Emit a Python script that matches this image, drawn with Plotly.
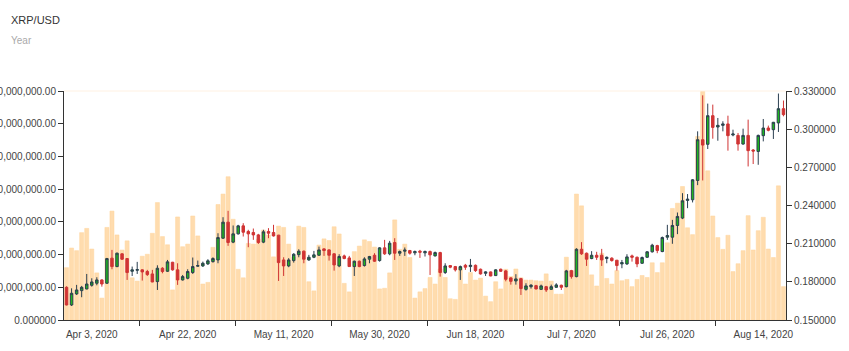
import pandas as pd
import plotly.graph_objects as go

START_DATE = "2020-03-29"
N_DAYS = 143
DATES = pd.date_range(START_DATE, periods=N_DAYS, freq="D")

OPEN = [0.1757,0.1618,0.1705,0.1731,0.1744,0.1773,0.1789,0.1815,0.1789,0.1986,
        0.1920,0.2020,0.1983,0.1883,0.1891,0.1894,0.1881,0.1862,0.1802,0.1907,
        0.1883,0.1954,0.1894,0.1815,0.1828,0.1873,0.1923,0.1925,0.1941,0.1959,
        0.1972,0.2143,0.2269,0.2112,0.2177,0.2240,0.2196,0.2188,0.2169,0.2112,
        0.2196,0.2188,0.2167,0.1972,0.1925,0.1967,0.2014,0.2041,0.1972,0.1993,
        0.2009,0.2059,0.2051,0.2020,0.1925,0.2004,0.1988,0.1920,0.1962,0.1928,
        0.1978,0.2009,0.1967,0.2067,0.2020,0.2109,0.2025,0.2041,0.2046,0.2028,
        0.2041,0.2028,0.2038,0.2004,0.2030,0.1873,0.1928,0.1920,0.1894,0.1930,
        0.1920,0.1930,0.1899,0.1867,0.1878,0.1849,0.1899,0.1886,0.1831,0.1807,
        0.1825,0.1741,0.1762,0.1770,0.1741,0.1762,0.1741,0.1757,0.1773,0.1762,
        0.1888,0.1841,0.2056,0.2025,0.1983,0.2009,0.2009,0.1983,0.1986,0.1970,
        0.1941,0.1941,0.2004,0.1993,0.1946,0.1993,0.2036,0.2085,0.2038,0.2151,
        0.2151,0.2243,0.2301,0.2440,0.2445,0.2597,0.2917,0.2881,0.3106,0.3017,
        0.3030,0.3041,0.2954,0.2951,0.2883,0.2951,0.2836,0.2825,0.2949,0.3009,
        0.2996,0.3049,0.3161]
HIGH = [0.1765,0.1749,0.1776,0.1768,0.1862,0.1828,0.1836,0.1820,0.1988,0.2051,
        0.2030,0.2025,0.1986,0.1920,0.1957,0.1899,0.1894,0.1894,0.1930,0.1915,
        0.1972,0.1957,0.1946,0.1854,0.1899,0.1991,0.1967,0.1959,0.1978,0.1993,
        0.2182,0.2308,0.2358,0.2243,0.2248,0.2261,0.2209,0.2219,0.2177,0.2209,
        0.2222,0.2248,0.2169,0.1993,0.1986,0.2025,0.2056,0.2046,0.2012,0.2043,
        0.2077,0.2064,0.2056,0.2025,0.2017,0.2014,0.2004,0.1967,0.1967,0.1993,
        0.2004,0.2025,0.2072,0.2130,0.2122,0.2143,0.2046,0.2070,0.2051,0.2046,
        0.2051,0.2046,0.2046,0.2038,0.2036,0.1946,0.1930,0.1925,0.1928,0.1941,
        0.1980,0.1936,0.1904,0.1883,0.1881,0.1899,0.1904,0.1894,0.1836,0.1860,
        0.1831,0.1789,0.1783,0.1776,0.1778,0.1768,0.1778,0.1789,0.1778,0.1894,
        0.1894,0.2064,0.2112,0.2030,0.2041,0.2036,0.2059,0.1999,0.1993,0.1972,
        0.1972,0.2017,0.2014,0.1999,0.1999,0.2041,0.2099,0.2091,0.2156,0.2248,
        0.2287,0.2345,0.2497,0.2490,0.2608,0.2983,0.3266,0.3201,0.3193,0.3088,
        0.3062,0.3106,0.2996,0.2970,0.3004,0.3075,0.2844,0.2957,0.3080,0.3028,
        0.3057,0.3280,0.3225]
LOW = [0.1615,0.1610,0.1697,0.1679,0.1741,0.1762,0.1773,0.1762,0.1783,0.1899,
       0.1915,0.1972,0.1815,0.1846,0.1862,0.1810,0.1846,0.1797,0.1736,0.1867,
       0.1878,0.1888,0.1776,0.1810,0.1820,0.1862,0.1917,0.1917,0.1933,0.1951,
       0.1946,0.2138,0.2083,0.2104,0.2172,0.2156,0.2072,0.2130,0.2098,0.2104,
       0.2143,0.2156,0.1807,0.1846,0.1915,0.1951,0.1993,0.1946,0.1965,0.1986,
       0.2004,0.2004,0.1967,0.1888,0.1915,0.1978,0.1917,0.1846,0.1915,0.1920,
       0.1946,0.1957,0.1959,0.2012,0.2009,0.1972,0.2004,0.2004,0.2014,0.2009,
       0.1988,0.1999,0.1854,0.1999,0.1841,0.1862,0.1907,0.1881,0.1815,0.1894,
       0.1878,0.1878,0.1857,0.1846,0.1844,0.1846,0.1878,0.1804,0.1778,0.1778,
       0.1697,0.1731,0.1747,0.1741,0.1736,0.1720,0.1736,0.1752,0.1736,0.1757,
       0.1825,0.1836,0.2012,0.1925,0.1978,0.1972,0.1925,0.1946,0.1959,0.1888,
       0.1907,0.1933,0.1959,0.1915,0.1941,0.1988,0.2030,0.2025,0.2033,0.2130,
       0.2099,0.2175,0.2293,0.2379,0.2424,0.2560,0.2597,0.2844,0.2925,0.2909,
       0.2983,0.2831,0.2944,0.2831,0.2878,0.2707,0.2726,0.2720,0.2904,0.2983,
       0.2923,0.2978,0.3101]
CLOSE = [0.1618,0.1710,0.1736,0.1757,0.1783,0.1799,0.1815,0.1783,0.1983,0.1920,
         0.2025,0.1978,0.1873,0.1894,0.1896,0.1878,0.1857,0.1799,0.1907,0.1881,
         0.1957,0.1894,0.1815,0.1841,0.1881,0.1920,0.1928,0.1946,0.1965,0.1983,
         0.2148,0.2269,0.2109,0.2177,0.2240,0.2190,0.2177,0.2169,0.2109,0.2193,
         0.2182,0.2161,0.1951,0.1925,0.1972,0.2017,0.2041,0.1978,0.1993,0.2012,
         0.2051,0.2046,0.2009,0.1933,0.1999,0.1983,0.1920,0.1962,0.1920,0.1980,
         0.1999,0.1962,0.2067,0.2020,0.2104,0.2025,0.2038,0.2049,0.2025,0.2038,
         0.2033,0.2038,0.2012,0.2030,0.1873,0.1925,0.1915,0.1894,0.1920,0.1915,
         0.1930,0.1888,0.1862,0.1878,0.1846,0.1894,0.1883,0.1820,0.1804,0.1823,
         0.1747,0.1768,0.1773,0.1744,0.1768,0.1736,0.1762,0.1776,0.1757,0.1886,
         0.1841,0.2056,0.2020,0.1978,0.2009,0.1993,0.1972,0.1993,0.1967,0.1928,
         0.1951,0.1996,0.1993,0.1941,0.1991,0.2036,0.2088,0.2046,0.2148,0.2164,
         0.2243,0.2314,0.2437,0.2450,0.2602,0.2917,0.2875,0.3106,0.3014,0.3030,
         0.3041,0.2949,0.2962,0.2883,0.2951,0.2831,0.2828,0.2951,0.3009,0.2991,
         0.3054,0.3161,0.3114]
# daily volume, in billions of USD
VOLUME_BN = [1.60,2.20,2.12,2.67,2.80,2.17,1.44,0.67,2.83,3.33,
             2.60,2.14,2.42,1.29,1.19,1.95,2.01,2.65,3.59,2.55,
             2.30,0.92,3.15,2.24,2.32,3.18,2.57,1.10,1.15,2.22,
             3.53,3.85,4.38,3.08,1.55,1.29,2.34,2.32,2.47,2.75,
             2.60,1.93,2.87,2.83,2.32,1.92,2.87,2.83,1.17,0.89,
             2.29,2.48,2.43,2.85,2.63,1.12,0.86,2.09,2.26,2.45,
             2.40,2.23,0.95,0.97,1.44,3.06,2.16,2.32,1.91,0.67,
             0.86,0.96,1.30,1.10,1.56,1.30,0.65,0.63,1.60,1.10,
             1.45,1.22,1.28,0.73,0.56,1.17,0.95,1.55,1.33,1.56,
             1.29,1.22,1.22,1.20,1.19,1.41,1.19,0.79,0.79,1.92,
             1.51,3.85,3.49,2.02,1.38,1.04,2.04,1.27,1.10,1.51,
             1.20,1.24,1.02,1.24,1.36,1.30,1.75,1.45,1.75,2.36,
             3.41,3.57,4.08,2.82,2.61,5.61,6.98,4.56,3.18,2.52,
             2.16,2.59,1.48,1.72,2.12,3.19,2.14,2.73,3.14,2.17,
             1.91,4.10,1.02]

X_LABEL_DATES = ["2020-04-03", "2020-04-22", "2020-05-11", "2020-05-30",
                 "2020-06-18", "2020-07-07", "2020-07-26", "2020-08-14"]
X_LABELS = ["Apr 3, 2020", "Apr 22, 2020", "May 11, 2020", "May 30, 2020",
            "Jun 18, 2020", "Jul 7, 2020", "Jul 26, 2020", "Aug 14, 2020"]
X_TICK_MARKS = ["2020-04-12 12:00", "2020-05-01 12:00", "2020-05-20 12:00",
                "2020-06-08 12:00", "2020-06-27 12:00", "2020-07-16 12:00",
                "2020-08-04 12:00"]
VOL_TICKS = [0, 1, 2, 3, 4, 5, 6, 7]
VOL_LABELS = ["0.000000", "1,000,000,000.00", "2,000,000,000.00", "3,000,000,000.00",
              "4,000,000,000.00", "5,000,000,000.00", "6,000,000,000.00",
              "7,000,000,000.00"]

AXIS = "#333333"
TICKFONT = dict(family="Arial, Liberation Sans, sans-serif", size=10, color="#444444")

fig = go.Figure()
fig.add_trace(go.Bar(
    x=DATES, y=VOLUME_BN, yaxis="y",
    marker=dict(color="#ffdcae", line=dict(color="#ffd49c", width=0.5)),
    hoverinfo="skip", showlegend=False,
))
fig.add_trace(go.Candlestick(
    x=DATES, open=OPEN, high=HIGH, low=LOW, close=CLOSE, yaxis="y2",
    increasing=dict(line=dict(color="#2b3f50", width=1), fillcolor="#1fb51f"),
    decreasing=dict(line=dict(color="#d03434", width=1), fillcolor="#d03434"),
    showlegend=False,
))

fig.update_layout(
    width=849, height=351,
    margin=dict(l=64, r=63, t=91, b=31, autoexpand=False),
    paper_bgcolor="white", plot_bgcolor="white",
    bargap=0.2,
    xaxis=dict(
        type="date", range=["2020-03-28 12:00", "2020-08-18 12:00"],
        rangeslider=dict(visible=False),
        tickmode="array", tickvals=X_LABEL_DATES, ticktext=X_LABELS,
        ticks="outside", ticklen=5, tickcolor="rgba(0,0,0,0)",
        minor=dict(tickmode="array", tickvals=X_TICK_MARKS, ticks="outside",
                   ticklen=5, tickcolor=AXIS, showgrid=False),
        showline=True, linecolor=AXIS, linewidth=1,
        showgrid=False, zeroline=False, tickfont=TICKFONT, automargin=False,
    ),
    yaxis=dict(
        range=[0, 7], tickmode="array", tickvals=VOL_TICKS, ticktext=VOL_LABELS,
        ticks="outside", ticklen=5, tickcolor=AXIS,
        showline=True, linecolor=AXIS, linewidth=1,
        showgrid=False, zeroline=False, tickfont=TICKFONT, automargin=False,
    ),
    yaxis2=dict(
        overlaying="y", side="right", range=[0.15, 0.33], dtick=0.03, tick0=0.15,
        tickformat=".6f", ticks="outside", ticklen=5, tickcolor=AXIS,
        showline=True, linecolor=AXIS, linewidth=1,
        showgrid=False, zeroline=False, tickfont=TICKFONT, automargin=False,
    ),
    shapes=[dict(type="line", xref="paper", yref="paper", x0=0, x1=1, y0=1, y1=1,
                 line=dict(color="#fff1e2", width=1), layer="below")],
    annotations=[
        dict(text="XRP/USD", xref="paper", yref="paper", x=-0.0762, y=1.31,
             xanchor="left", yanchor="middle", showarrow=False,
             font=dict(family="Arial, Liberation Sans, sans-serif", size=11, color="#333333")),
        dict(text="Year", xref="paper", yref="paper", x=-0.0762, y=1.2227,
             xanchor="left", yanchor="middle", showarrow=False,
             font=dict(family="Arial, Liberation Sans, sans-serif", size=10, color="#aaaaaa")),
    ],
)

fig.write_html("out.html")
